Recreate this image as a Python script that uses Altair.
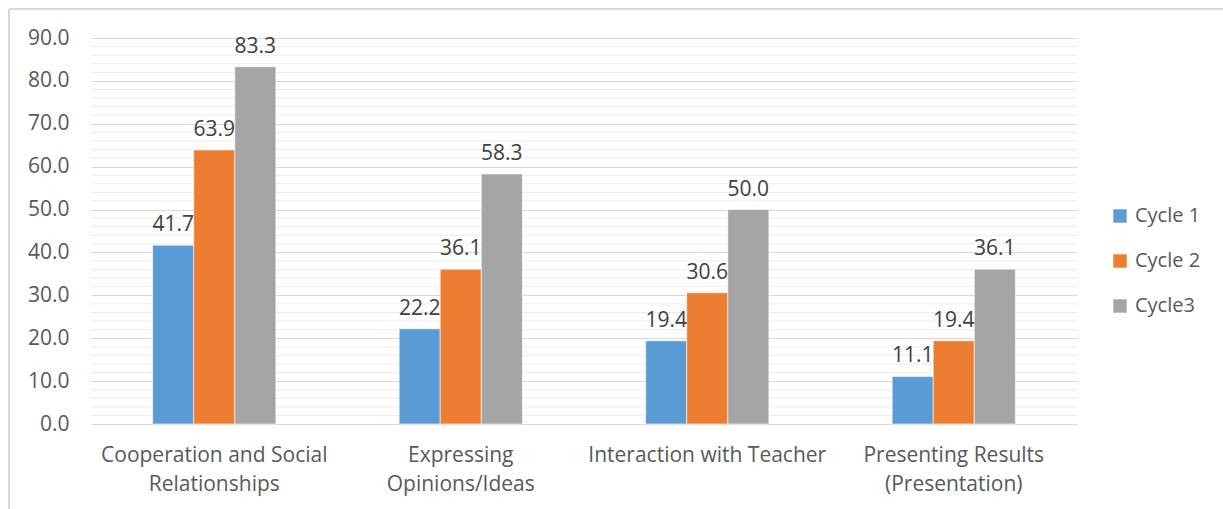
import altair as alt
import pandas as pd

categories = ["Cooperation and Social\nRelationships", "Expressing\nOpinions/Ideas",
              "Interaction with Teacher", "Presenting Results\n(Presentation)"]
series = ["Cycle 1", "Cycle 2", "Cycle3"]
cycle1 = [41.7, 22.2, 19.4, 11.1]
cycle2 = [63.9, 36.1, 30.6, 19.4]
cycle3 = [83.3, 58.3, 50.0, 36.1]
colors = ["#5B9BD5", "#ED7D31", "#A5A5A5"]
y_ticks = [0, 10, 20, 30, 40, 50, 60, 70, 80, 90]
minor_ticks = [v for v in range(2, 90, 2) if v % 10 != 0]

rows = []
for name, vals in zip(series, [cycle1, cycle2, cycle3]):
    for c, v in zip(categories, vals):
        rows.append({"category": c, "series": name, "value": v})
df = pd.DataFrame(rows)
minor_df = pd.DataFrame({"v": minor_ticks})

FONT = "Open Sans"
FS = 21
W, H = 986, 386

yscale = alt.Scale(domain=[0, 90], nice=False, zero=True)
yaxis = alt.Axis(title=None, values=y_ticks, format=".1f",
                 labelFont=FONT, labelFontSize=FS, labelColor="#595959",
                 labelPadding=22, ticks=False, domain=False,
                 grid=True, gridColor="#D9D9D9", gridWidth=1.2)

minor = alt.Chart(minor_df).mark_rule(color="#EDEDED", strokeWidth=1).encode(
    y=alt.Y("v:Q", scale=yscale, axis=yaxis)
)

base = alt.Chart(df).encode(
    x=alt.X("category:N", sort=categories,
            scale=alt.Scale(paddingInner=0.5, paddingOuter=0.25),
            axis=alt.Axis(title=None, labelAngle=0, labelExpr="split(datum.label, '\\n')",
                          labelFont=FONT, labelFontSize=FS, labelColor="#595959",
                          labelPadding=20, labelLineHeight=29, ticks=False, domain=False,
                          labelBaseline="top", labelLimit=0)),
    xOffset=alt.XOffset("series:N", sort=series),
)

bars = base.mark_bar(stroke="white", strokeWidth=0.6).encode(
    y=alt.Y("value:Q", scale=yscale, axis=yaxis),
    color=alt.Color("series:N", sort=series,
                    scale=alt.Scale(domain=series, range=colors),
                    legend=alt.Legend(title=None, orient="none", legendX=1019, legendY=168,
                                      symbolType="square", symbolSize=180,
                                      symbolStrokeWidth=0,
                                      labelFont=FONT, labelFontSize=20, labelColor="#595959",
                                      rowPadding=25, labelOffset=5)),
)

labels = base.mark_text(baseline="bottom", dy=-10, font=FONT, fontSize=FS,
                        color="#404040").encode(
    y=alt.Y("value:Q", scale=yscale),
    text=alt.Text("value:Q", format=".1f"),
)

frame_top = alt.Chart(minor_df).mark_rule(color="#D9D9D9", strokeWidth=2).encode(
    x=alt.value(-82), x2=alt.value(1150), y=alt.value(-29)
)
frame_left = alt.Chart(minor_df).mark_rule(color="#D9D9D9", strokeWidth=2).encode(
    x=alt.value(-82), y=alt.value(-29), y2=alt.value(500)
)

chart = alt.layer(frame_top, frame_left, minor, bars, labels).properties(
    width=W, height=H,
    autosize=alt.AutoSizeParams(type="none"),
    padding={"left": 91, "top": 38, "right": 146, "bottom": 85},
).configure(background="white").configure_view(stroke=None)

chart.save("out.html", embed_options={"renderer": "svg", "actions": False})
